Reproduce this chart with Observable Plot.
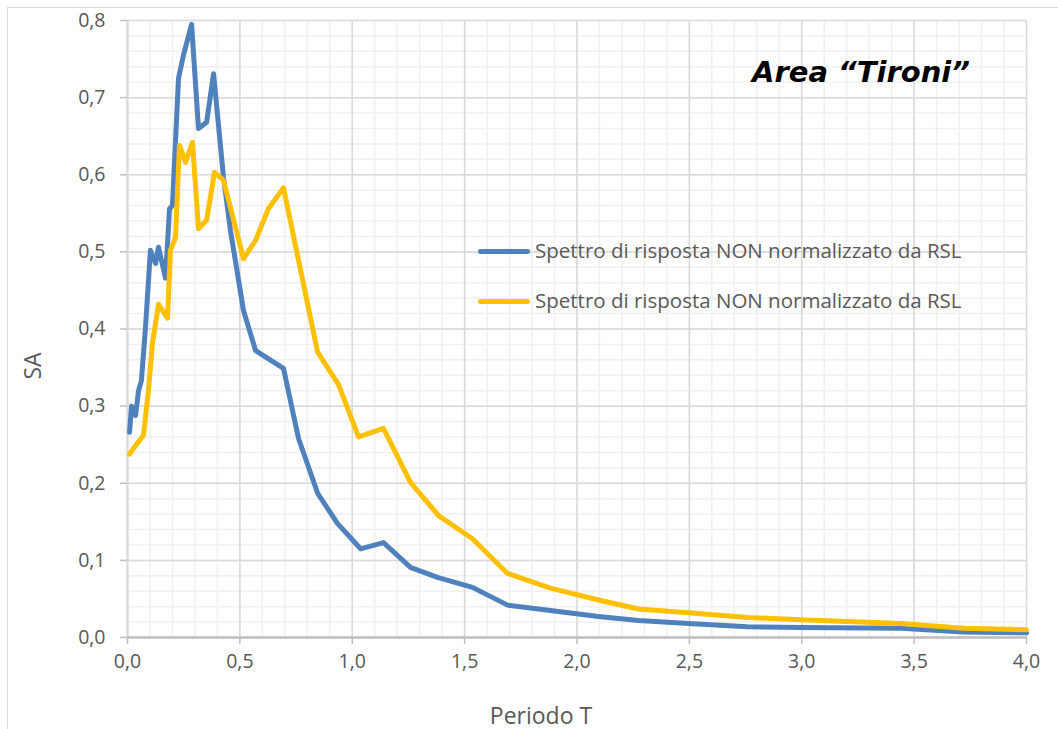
<!DOCTYPE html>
<html>
<head>
<meta charset="utf-8">
<script src="https://cdn.jsdelivr.net/npm/d3@7"></script>
<script src="https://cdn.jsdelivr.net/npm/@observablehq/plot@0.6"></script>
<style>
  html, body { margin: 0; padding: 0; background: #fff; }
  #wrap { position: relative; width: 1058px; height: 729px; overflow: hidden; font-family: "Open Sans", sans-serif; }
  #frame { position: absolute; left: 7px; top: 7px; width: 1200px; height: 900px; border-left: 1px solid #d9d9d9; border-top: 1px solid #d9d9d9; }
  .ov { position: absolute; white-space: nowrap; color: #595959; line-height: 1; }
  .leg { position: absolute; height: 5px; border-radius: 3px; }
</style>
</head>
<body>
<div id="wrap">
  <div id="frame"></div>
  <div id="chart" style="position:absolute;left:0;top:0;"></div>
  <div class="ov" id="title" style="left:752px; top:58px; font-family:'DejaVu Sans'; font-weight:bold; font-style:italic; font-size:29px; color:#000;">Area “Tironi”</div>
  <div class="leg" style="left:478px; top:249px; width:52px; background:#4f81bd;"></div>
  <div class="ov legtxt" style="left:535px; top:240px; font-size:20.5px;">Spettro di risposta NON normalizzato da RSL</div>
  <div class="leg" style="left:478px; top:299px; width:52px; background:#ffc000;"></div>
  <div class="ov legtxt" style="left:535px; top:290px; font-size:20.5px;">Spettro di risposta NON normalizzato da RSL</div>
  <div class="ov" style="left:541px; top:715px; font-size:23px; transform: translate(-50%,-50%);">Periodo T</div>
  <div class="ov" style="left:32px; top:366px; font-size:23px; transform: translate(-50%,-50%) rotate(-90deg);">SA</div>
</div>
<script>
// Series 1 (blue)
const T_blue  = [0.009, 0.018, 0.036, 0.049, 0.062, 0.080, 0.102, 0.125, 0.138, 0.169, 0.187, 0.200, 0.227, 0.249, 0.285, 0.316, 0.352, 0.383, 0.427, 0.458, 0.516, 0.570, 0.694, 0.761, 0.846, 0.934, 1.037, 1.139, 1.259, 1.379, 1.535, 1.691, 1.882, 2.105, 2.274, 2.496, 2.759, 2.995, 3.440, 3.720, 4.000];
const SA_blue = [0.266, 0.300, 0.288, 0.320, 0.333, 0.402, 0.502, 0.485, 0.506, 0.466, 0.556, 0.560, 0.725, 0.755, 0.795, 0.660, 0.668, 0.731, 0.597, 0.528, 0.424, 0.372, 0.349, 0.258, 0.187, 0.148, 0.115, 0.123, 0.091, 0.078, 0.065, 0.042, 0.035, 0.027, 0.022, 0.018, 0.014, 0.013, 0.012, 0.007, 0.006];
// Series 2 (yellow)
const T_yellow  = [0.009, 0.036, 0.071, 0.093, 0.111, 0.138, 0.178, 0.191, 0.214, 0.231, 0.258, 0.289, 0.316, 0.352, 0.387, 0.427, 0.516, 0.570, 0.627, 0.694, 0.846, 0.939, 1.028, 1.139, 1.259, 1.384, 1.535, 1.691, 1.882, 2.105, 2.274, 2.496, 2.759, 2.995, 3.440, 3.720, 4.000];
const SA_yellow = [0.238, 0.249, 0.262, 0.320, 0.381, 0.432, 0.414, 0.502, 0.519, 0.638, 0.616, 0.642, 0.530, 0.541, 0.603, 0.593, 0.491, 0.515, 0.556, 0.583, 0.370, 0.328, 0.260, 0.271, 0.201, 0.158, 0.128, 0.083, 0.064, 0.048, 0.037, 0.032, 0.026, 0.023, 0.018, 0.012, 0.010];
// Ticks
const xTicks = [0, 0.5, 1, 1.5, 2, 2.5, 3, 3.5, 4];
const yTicks = [0, 0.1, 0.2, 0.3, 0.4, 0.5, 0.6, 0.7, 0.8];
const xMinor = d3.range(0, 41).map(i => i / 10);
const yMinor = d3.range(0, 41).map(i => i / 50);

const blue = T_blue.map((t, i) => ({T: t, SA: SA_blue[i]}));
const yellow = T_yellow.map((t, i) => ({T: t, SA: SA_yellow[i]}));
const fmt = d => d.toFixed(1).replace(".", ",");

const chart = Plot.plot({
  width: 1058,
  height: 729,
  marginLeft: 127,
  marginRight: 32,
  marginTop: 20,
  marginBottom: 92,
  x: {domain: [0, 4]},
  y: {domain: [0, 0.8]},
  style: {fontFamily: "Open Sans", fontSize: "19.5px", color: "#595959", background: "transparent"},
  marks: [
    Plot.gridX(xMinor, {stroke: "#f0f0f0", strokeOpacity: 1, strokeWidth: 1.5}),
    Plot.gridY(yMinor, {stroke: "#f0f0f0", strokeOpacity: 1, strokeWidth: 1.5}),
    Plot.gridX(xTicks, {stroke: "#d9d9d9", strokeOpacity: 1, strokeWidth: 1.5}),
    Plot.gridY(yTicks, {stroke: "#d9d9d9", strokeOpacity: 1, strokeWidth: 1.5}),
    Plot.ruleX([0], {stroke: "#d9d9d9", strokeWidth: 2}),
    Plot.ruleY([0], {stroke: "#bfbfbf", strokeWidth: 2.5}),
    Plot.axisX(xTicks, {tickFormat: fmt, tickSize: 7, tickPadding: 10, stroke: "#bfbfbf", strokeWidth: 1.5, label: null}),
    Plot.axisY(yTicks, {tickFormat: fmt, tickSize: 7, tickPadding: 15, stroke: "#bfbfbf", strokeWidth: 1.5, label: null}),
    Plot.line(blue, {x: "T", y: "SA", stroke: "#4f81bd", strokeWidth: 5, strokeLinejoin: "round", strokeLinecap: "round"}),
    Plot.line(yellow, {x: "T", y: "SA", stroke: "#ffc000", strokeWidth: 5, strokeLinejoin: "round", strokeLinecap: "round"})
  ]
});
document.getElementById("chart").appendChild(chart);
</script>
</body>
</html>
